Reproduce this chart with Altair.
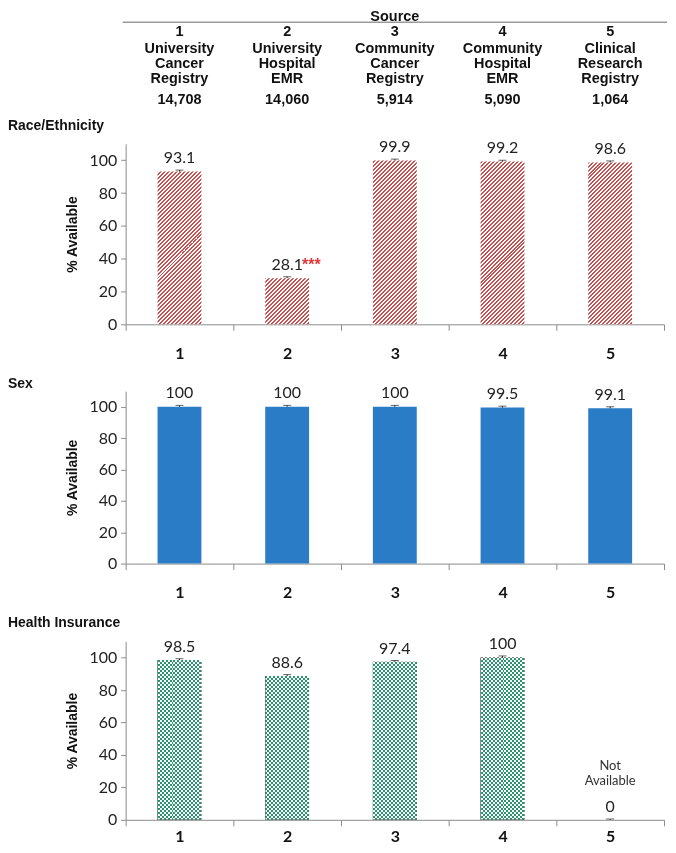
import math
import altair as alt
import pandas as pd

# ---------------- data ----------------
sources = ["1", "2", "3", "4", "5"]
source_names = [
    "University\nCancer\nRegistry",
    "University\nHospital\nEMR",
    "Community\nCancer\nRegistry",
    "Community\nHospital\nEMR",
    "Clinical\nResearch\nRegistry",
]
patient_counts = ["14,708", "14,060", "5,914", "5,090", "1,064"]

race_values = [93.1, 28.1, 99.9, 99.2, 98.6]
race_errors = [0.9, 0.9, 0.8, 0.8, 1.0]
race_flags = ["", "***", "", "", ""]

sex_values = [100, 100, 100, 99.5, 99.1]
sex_errors = [0.9, 0.9, 0.9, 0.9, 0.9]

insurance_values = [98.5, 88.6, 97.4, 100, 0]
insurance_errors = [0.8, 0.9, 0.8, 1.0, 0.5]
insurance_notes = ["", "", "", "", "Not\nAvailable"]

# ---------------- style ----------------
W = 540
BAR = 44
YMAX = 110
H_RACE, H_SEX, H_INS = 181, 173, 179
RED, BLUE, GREEN = "#c9504f", "#2b7cc6", "#27966c"
AXC = "#8c8c8c"
TF = "Liberation Sans"
HF = "Liberation Sans Narrow, Liberation Sans, Arial"
LF = "Lato"


def frame(vals, errs, flags=None, notes=None):
    return pd.DataFrame({
        "src": sources,
        "val": vals,
        "hi": [v + e for v, e in zip(vals, errs)],
        "label": [f"{v:g}" for v in vals],
        "flag": flags if flags else [""] * len(vals),
        "note": notes if notes else [""] * len(vals),
    })


def xscale():
    return alt.Scale(domain=sources, paddingInner=0, paddingOuter=0)


def xenc(lp, pad_below=0):
    if pad_below:
        extra = dict(title=" ", titleFontSize=pad_below, titlePadding=0)
    else:
        extra = dict(title=None)
    return alt.X("src:N", sort=sources, scale=xscale(), axis=alt.Axis(
        labelAngle=0, labelFont=LF, labelFontSize=16, labelFontWeight="bold",
        labelColor="#111", labelPadding=lp, tickBand="extent", tickSize=6,
        tickColor=AXC, domainColor=AXC, tickWidth=1, domainWidth=1, **extra))


YAXIS = alt.Axis(values=[0, 20, 40, 60, 80, 100], title="% Available", titleFont=TF,
                 titleFontWeight="bold", titleFontSize=14, titleColor="#111", titlePadding=9,
                 labelFont=LF, labelFontSize=16, labelColor="#222", labelPadding=4,
                 tickSize=5, tickColor=AXC, domainColor=AXC, grid=False)


def yenc(field):
    return alt.Y(f"{field}:Q", scale=alt.Scale(domain=[0, YMAX], nice=False), axis=YAXIS)


def stops_for(length, period, c1, c2, phase=0.0):
    """Hard-edged alternating stripes; c1 occupies [phase, phase+period/2) mod period."""
    half = period / 2
    edges = [0.0]
    e = phase
    while e < length:
        if e > 0:
            edges.append(e)
        e += half
    edges.append(length)
    # colour of the segment starting at 0: if phase > 0 the first segment is c2
    first_is_c1 = phase == 0
    stops = []
    for i in range(len(edges) - 1):
        col = c1 if ((i % 2 == 0) == first_is_c1) else c2
        a, b = edges[i] / length, min(1.0, edges[i + 1] / length)
        stops += [{"offset": a, "color": col}, {"offset": b, "color": col}]
    return stops


def stripes_diag(h, c1, c2, period=4.0):
    # "/" hatch, anchored at the bar's bottom-right corner
    w = BAR
    L = w + h
    d = w * w + h * h
    return {"gradient": "linear", "x1": 1, "y1": 1,
            "x2": 1 - w * L / d, "y2": 1 - h * L / d,
            "stops": stops_for(L, period, c1, c2, phase=1.0)}


def stripes_vertical(period=4.0):
    return {"gradient": "linear", "x1": 0, "y1": 0, "x2": 1, "y2": 0,
            "stops": stops_for(BAR, period, "white", "black")}


def stripes_horizontal(h, period=4.0):
    return {"gradient": "linear", "x1": 0, "y1": 1, "x2": 0, "y2": 0,
            "stops": stops_for(h, period, "white", "black")}


def per_bar(vals, H, make):
    grads = [make(max(v, 0.5) / YMAX * H) for v in vals]
    conds = [{"test": f"datum.src === '{s}'", "value": g} for s, g in zip(sources[:-1], grads[:-1])]
    return {"condition": conds, "value": grads[-1]}


def extras(df, xe):
    base = alt.Chart(df)
    rule = base.mark_rule(color="#222", strokeWidth=1).encode(x=xe, y=yenc("val"), y2="hi:Q")
    cap = base.mark_tick(color="#222", size=8, thickness=1).encode(x=xe, y=yenc("hi"))
    txt = base.mark_text(font=LF, fontSize=16, color="#222", baseline="bottom", dy=-4).encode(
        x=xe, y=yenc("hi"), text="label:N")
    return [rule, cap, txt]


def panel_title(text, offset):
    return alt.TitleParams(text, anchor="start", frame="group", dx=-118, offset=offset,
                           font=TF, fontSize=14, fontWeight="bold", color="#111")


# ---------------- header ----------------
hdr = pd.DataFrame({"src": sources, "name": source_names, "count": patient_counts})
hx = alt.X("src:N", sort=sources, scale=xscale(), axis=None)
hbase = alt.Chart(hdr)
one = pd.DataFrame({"t": ["Source"]})
h_src = alt.Chart(one).mark_text(
    font=HF, fontSize=14.5, fontWeight="bold", baseline="top", color="#111").encode(
    x=alt.value(W / 2), y=alt.value(0), text="t:N")
h_rule = alt.Chart(one).mark_rule(color="#9a9a9a", strokeWidth=1.5).encode(
    x=alt.value(-3), x2=alt.value(W + 3), y=alt.value(12))
h_num = hbase.mark_text(font=HF, fontSize=14.5, fontWeight="bold", baseline="middle", color="#111").encode(
    x=hx, y=alt.value(22), text="src:N")
h_name = hbase.mark_text(font=HF, fontSize=14.5, fontWeight="bold", baseline="middle", lineBreak="\n",
                         lineHeight=15, color="#111").encode(x=hx, y=alt.value(39), text="name:N")
h_cnt = hbase.mark_text(font=HF, fontSize=14.5, fontWeight="bold", baseline="middle", color="#111").encode(
    x=hx, y=alt.value(90), text="count:N")
header = alt.layer(h_src, h_rule, h_num, h_name, h_cnt).properties(width=W, height=98)

# ---------------- race ----------------
race_df = frame(race_values, race_errors, flags=race_flags)
xr = xenc(15, pad_below=5)
race_bars = alt.Chart(race_df).mark_bar(size=BAR).encode(
    x=xr, y=yenc("val"),
    fill=per_bar(race_values, H_RACE, lambda h: stripes_diag(h, RED, "white")))
race_flag = alt.Chart(race_df).transform_filter("datum.flag !== ''").mark_text(
    font=TF, fontSize=16, fontWeight="bold", color="#e3343a",
    align="left", baseline="bottom", dx=15, dy=-4).encode(
    x=xr, y=yenc("hi"), text="flag:N")
race = alt.layer(race_bars, *extras(race_df, xr), race_flag).properties(
    width=W, height=H_RACE, title=panel_title("Race/Ethnicity", 6))

# ---------------- sex ----------------
sex_df = frame(sex_values, sex_errors)
xs = xenc(15, pad_below=4)
sex_bars = alt.Chart(sex_df).mark_bar(size=BAR, color=BLUE).encode(x=xs, y=yenc("val"))
sex = alt.layer(sex_bars, *extras(sex_df, xs)).properties(
    width=W, height=H_SEX, title=panel_title("Sex", -6))

# ---------------- insurance ----------------
ins_df = frame(insurance_values, insurance_errors, notes=insurance_notes)
xi = xenc(3)
ib = alt.Chart(ins_df)
ins_white = ib.mark_bar(size=BAR, color="white").encode(x=xi, y=yenc("val"))
ins_v = ib.mark_bar(size=BAR, blend="difference", fill=stripes_vertical()).encode(
    x=xi, y=yenc("val"))
ins_h = ib.mark_bar(size=BAR, blend="difference").encode(
    x=xi, y=yenc("val"),
    fill=per_bar(insurance_values, H_INS, lambda h: stripes_horizontal(h)))
ins_tint = ib.mark_bar(size=BAR, color=GREEN, blend="lighten").encode(x=xi, y=yenc("val"))
ins_note = ib.transform_filter("datum.note !== ''").mark_text(
    font=LF, fontSize=13, color="#333", baseline="bottom", lineBreak="\n",
    lineHeight=15, dy=-46).encode(x=xi, y=yenc("hi"), text="note:N")
ins = alt.layer(ins_white, ins_v, ins_h, ins_tint, *extras(ins_df, xi), ins_note).properties(
    width=W, height=H_INS, title=panel_title("Health Insurance", 6))

chart = alt.vconcat(header, race, sex, ins, spacing=11).properties(
    padding=0, background="white"
).configure_view(stroke=None)

chart.save("out.html", embed_options={"renderer": "svg", "actions": False})
